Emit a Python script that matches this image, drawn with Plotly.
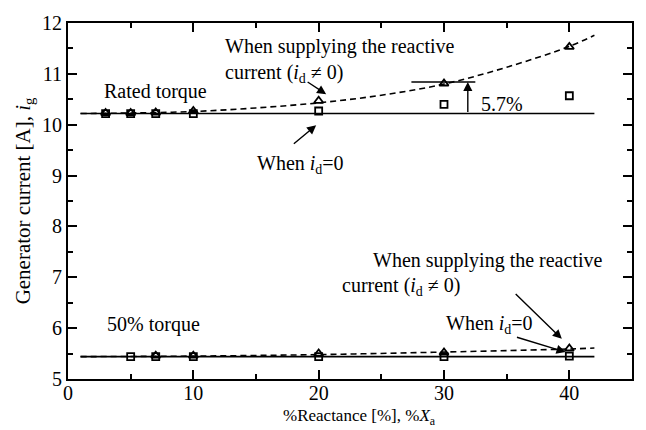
import plotly.graph_objects as go

# ---- data ----
rated_x = [3, 5, 7, 10, 20, 30, 40]
rated_sq = [10.22, 10.22, 10.22, 10.22, 10.27, 10.40, 10.57]
rated_tri = [10.23, 10.23, 10.24, 10.27, 10.47, 10.81, 11.53]
rated_line_x = [1, 42]
rated_line_y = [10.22, 10.22]
rated_fit_x = [1, 5, 10, 15, 20, 25, 30, 35, 40, 42]
rated_fit_y = [10.22, 10.23, 10.26, 10.33, 10.43, 10.58, 10.80, 11.13, 11.54, 11.76]

half_sq_x = [5, 7, 10, 20, 30, 40]
half_sq = [5.44, 5.44, 5.44, 5.44, 5.44, 5.45]
half_tri_x = [7, 10, 20, 30, 40]
half_tri = [5.46, 5.46, 5.50, 5.52, 5.60]
half_line_x = [1, 42]
half_line_y = [5.44, 5.44]
half_fit_x = [1, 10, 20, 30, 40, 42]
half_fit_y = [5.44, 5.45, 5.48, 5.53, 5.59, 5.61]

x_ticks = [0, 10, 20, 30, 40]
y_ticks = [5, 6, 7, 8, 9, 10, 11, 12]

FONT = "Liberation Serif"
BLACK = "#000000"

fig = go.Figure()

def line(x, y, dash="solid"):
    fig.add_trace(go.Scatter(x=x, y=y, mode="lines", showlegend=False,
                             line=dict(color=BLACK, width=1.6, dash=dash,
                                       shape="spline" if dash != "solid" else "linear")))

def markers(x, y, sym, size):
    fig.add_trace(go.Scatter(x=x, y=y, mode="markers", showlegend=False,
                             marker=dict(symbol=sym, size=size, color=BLACK,
                                         line=dict(color=BLACK, width=1.8))))

line(rated_line_x, rated_line_y)
line(rated_fit_x, rated_fit_y, "6px,4px")
line(half_line_x, half_line_y)
line(half_fit_x, half_fit_y, "6px,4px")
markers(rated_x, rated_sq, "square-open", 7)
markers(half_sq_x, half_sq, "square-open", 7)
markers(rated_x, rated_tri, "triangle-up-open", 8)
markers(half_tri_x, half_tri, "triangle-up-open", 8)

# 5.7% marker line
fig.add_trace(go.Scatter(x=[27.4, 32.5], y=[10.84, 10.84], mode="lines", showlegend=False,
                         line=dict(color=BLACK, width=1.6)))

ann = []
def text(x, y, t, size=20):
    ann.append(dict(x=x, y=y, xref="x", yref="y", text=t, showarrow=False,
                    xanchor="left", yanchor="middle", align="left",
                    font=dict(family=FONT, size=size, color=BLACK)))

def arrow(x, y, ax, ay):
    ann.append(dict(x=x, y=y, ax=ax, ay=ay, xref="x", yref="y", axref="x", ayref="y",
                    text="", showarrow=True, arrowhead=2, arrowsize=1.3, arrowwidth=1.4,
                    arrowcolor=BLACK, standoff=0, startstandoff=0))

text(12.34, 11.53, "When supplying the reactive")
text(12.34, 11.01, "current (<i>i</i><sub>d</sub> ≠ 0)")
text(2.68, 10.65, "Rated torque")
text(14.9, 9.22, "When <i>i</i><sub>d</sub>=0")
text(32.8, 10.41, "5.7%")
text(24.2, 7.33, "When supplying the reactive")
text(21.7, 6.81, "current (<i>i</i><sub>d</sub> ≠ 0)")
text(30.0, 6.08, "When <i>i</i><sub>d</sub>=0")
text(2.95, 6.08, "50% torque")

arrow(20.6, 10.60, 19.0, 10.86)
arrow(19.8, 9.99, 17.9, 9.60)
arrow(31.9, 10.84, 31.9, 10.22)
arrow(39.4, 5.79, 35.6, 6.70)
arrow(39.7, 5.53, 35.7, 5.83)

ann.append(dict(x=0.517, y=-0.107, xref="paper", yref="paper", showarrow=False,
                text="%Reactance [%], %<i>X</i><sub>a</sub>", xanchor="center", yanchor="middle",
                font=dict(family=FONT, size=17, color=BLACK)))

axis_common = dict(showline=True, linecolor=BLACK, linewidth=2, mirror="allticks",
                   ticks="inside", ticklen=9, tickwidth=1.6, tickcolor=BLACK,
                   showgrid=False, zeroline=False,
                   tickfont=dict(family=FONT, size=20, color=BLACK))

fig.update_layout(
    width=646, height=430,
    margin=dict(l=68, r=13, t=16, b=51),
    paper_bgcolor="white", plot_bgcolor="white",
    annotations=ann,
    xaxis=dict(range=[0, 45], tickvals=x_ticks, ticktext=[str(v) for v in x_ticks],
               ticklabelstandoff=-5,
               minor=dict(dtick=5, tick0=0, ticks="inside", ticklen=5, tickwidth=1.6,
                          tickcolor=BLACK, showgrid=False),
               **axis_common),
    yaxis=dict(range=[5, 12], tickvals=y_ticks, ticktext=[str(v) for v in y_ticks],
               minor=dict(dtick=0.5, tick0=5, ticks="inside", ticklen=5, tickwidth=1.6,
                          tickcolor=BLACK, showgrid=False),
               title=dict(text="Generator current [A], <i>i</i><sub>g</sub>", standoff=6,
                          font=dict(family=FONT, size=21, color=BLACK)),
               **axis_common),
)

fig.write_html("out.html")
